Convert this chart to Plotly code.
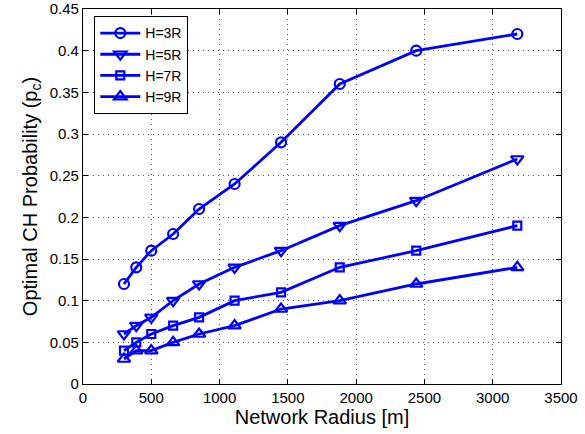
import plotly.graph_objects as go

radius = [300, 390, 500, 660, 850, 1110, 1450, 1880, 2440, 3180]
h3 = [0.12, 0.14, 0.16, 0.18, 0.21, 0.24, 0.29, 0.36, 0.40, 0.42]
h5 = [0.06, 0.07, 0.08, 0.10, 0.12, 0.14, 0.16, 0.19, 0.22, 0.27]
h7 = [0.04, 0.05, 0.06, 0.07, 0.08, 0.10, 0.11, 0.14, 0.16, 0.19]
h9 = [0.03, 0.04, 0.04, 0.05, 0.06, 0.07, 0.09, 0.10, 0.12, 0.14]
names = ["H=3R", "H=5R", "H=7R", "H=9R"]
x_ticks = [0, 500, 1000, 1500, 2000, 2500, 3000, 3500]
y_ticks = [0, 0.05, 0.1, 0.15, 0.2, 0.25, 0.3, 0.35, 0.4, 0.45]
y_tick_labels = ["0", "0.05", "0.1", "0.15", "0.2", "0.25", "0.3", "0.35", "0.4", "0.45"]
symbols = ["circle-open", "triangle-down-open", "square-open", "triangle-up-open"]
sizes = [10, 11, 8, 11]

fig = go.Figure()
for name, ys, sym, sz in zip(names, [h3, h5, h7, h9], symbols, sizes):
    fig.add_trace(go.Scatter(
        x=radius, y=ys, name=name, mode="lines+markers",
        line=dict(color="#0000ff", width=2.8),
        marker=dict(symbol=sym, size=sz, color="#0000ff", line=dict(width=2.2, color="#0000ff")),
    ))

axis_common = dict(
    showline=True, linecolor="black", linewidth=1.3, mirror="ticks",
    ticks="inside", ticklen=5, tickcolor="black",
    showgrid=True, gridcolor="#555555", griddash="1px,4px", gridwidth=1,
    zeroline=False, tickfont=dict(size=15, color="black"),
    ticklabeloverflow="allow", automargin=False,
)
fig.update_xaxes(range=[0, 3500], tickmode="array", tickvals=x_ticks,
                 ticktext=[str(v) for v in x_ticks],
                 title=dict(text="Network Radius [m]", font=dict(size=20, color="black"), standoff=2), **axis_common)
fig.update_yaxes(range=[0, 0.45], tickmode="array", tickvals=y_ticks, ticktext=y_tick_labels,
                 title=dict(text="Optimal CH Probability (p<sub>c</sub>)", font=dict(size=20, color="black"), standoff=6), **axis_common)

fig.update_layout(
    width=585, height=434,
    margin=dict(l=83, r=24, t=9, b=50),
    paper_bgcolor="white", plot_bgcolor="white",
    font=dict(family="Liberation Sans, Arial, sans-serif", color="black"),
    legend=dict(x=0.023, y=0.981, xanchor="left", yanchor="top",
                bordercolor="black", borderwidth=1.3, bgcolor="white",
                font=dict(size=14), itemwidth=40, tracegroupgap=0),
    showlegend=True,
)
fig.write_html("out.html")
